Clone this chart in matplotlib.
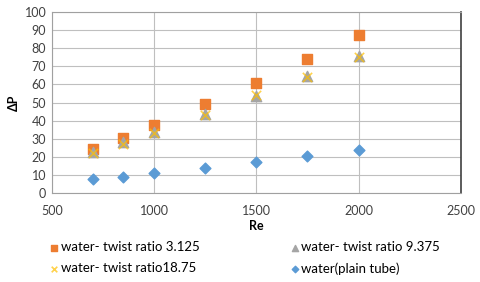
import matplotlib
matplotlib.use("Agg")
import matplotlib.pyplot as plt

plt.rcParams['font.family'] = ['Lato', 'DejaVu Sans']

re_vals = [700, 850, 1000, 1250, 1500, 1750, 2000]
dp_tr3125 = [24.5, 30.5, 37.5, 49, 61, 74, 87.5]
dp_tr9375 = [22.5, 28, 33.5, 43.5, 53.5, 64.5, 75.5]
dp_tr1875 = [22, 27, 33, 43, 54, 64, 75]
dp_plain = [7.5, 9, 11, 14, 17, 20.5, 24]

labels = ["water- twist ratio 3.125", "water- twist ratio 9.375",
          "water- twist ratio18.75", "water(plain tube)"]

fig = plt.figure(figsize=(4.8, 2.82), dpi=100)
ax = fig.add_axes([0.108, 0.316, 0.852, 0.641])

h1 = ax.scatter(re_vals, dp_tr3125, marker="s", s=55, color="#ED7D31", zorder=3)
h2 = ax.scatter(re_vals, dp_tr9375, marker="^", s=55, color="#A5A5A5", zorder=3)
h3 = ax.scatter(re_vals, dp_tr1875, marker="x", s=45, color="#FFC000", linewidths=1.2, zorder=4, alpha=0.7)
h4 = ax.scatter(re_vals, dp_plain, marker="D", s=30, color="#5B9BD5", zorder=3)

ax.set_xlim(500, 2500)
ax.set_ylim(0, 100)
ax.set_xticks(range(500, 2501, 500))
ax.set_yticks(range(0, 101, 10))
ax.grid(True, color="#BFBFBF", linewidth=0.8)
ax.set_axisbelow(True)
ax.tick_params(labelsize=9, length=0, colors="#404040")
ax.tick_params(axis="x", pad=9)
ax.tick_params(axis="y", pad=4)
for side in ["left", "bottom", "top"]:
    ax.spines[side].set_color("#A0A0A0")
ax.spines["right"].set_color("#404040")
ax.spines["right"].set_linewidth(1.2)

ax.set_xlabel("Re", fontsize=9, fontweight="bold", labelpad=2)
ax.set_ylabel("ΔP", fontsize=9, fontweight="bold", labelpad=3)

fig.legend([h1, h3, h2, h4], [labels[0], labels[2], labels[1], labels[3]],
           ncol=2, loc="upper left", bbox_to_anchor=(0.075, 0.187),
           frameon=False, fontsize=9.5, handletextpad=0.0, columnspacing=6.7,
           labelspacing=0.7, handlelength=1.0, markerscale=0.6)

fig.savefig("out.png", dpi=100)
